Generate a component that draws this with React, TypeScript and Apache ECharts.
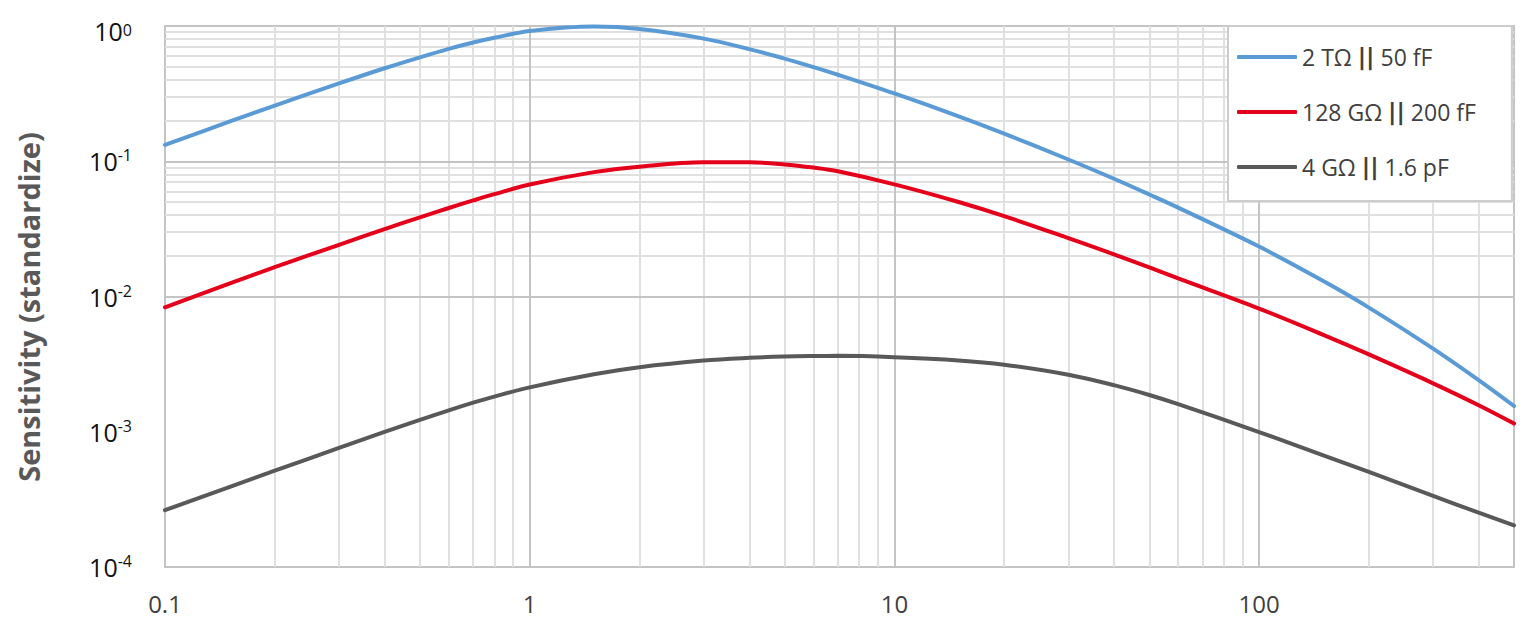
import React, { useEffect, useRef } from 'react';
import * as echarts from 'echarts';

// Frequency points (x axis, log scale)
const FREQ = [0.1, 0.15, 0.2, 0.3, 0.4, 0.5, 0.6, 0.7, 0.8, 1, 1.5, 2, 3, 4, 5, 6, 7, 10, 15, 20, 30, 40, 50, 60, 100, 150, 200, 300, 400, 500];

// Sensitivity values
const S_2T_50F = [0.132, 0.196, 0.258, 0.376, 0.487, 0.587, 0.678, 0.755, 0.818, 0.918, 0.99, 0.949, 0.807, 0.675, 0.574, 0.496, 0.436, 0.317, 0.215, 0.16, 0.103, 0.0742, 0.0568, 0.0454, 0.0234, 0.013, 0.00828, 0.00412, 0.00241, 0.00155];
const S_128G_200F = [0.00832, 0.01247, 0.01648, 0.0241, 0.0315, 0.0385, 0.0451, 0.0513, 0.0571, 0.0673, 0.0831, 0.0912, 0.0982, 0.0982, 0.0948, 0.0898, 0.0843, 0.0675, 0.05, 0.0393, 0.027, 0.0205, 0.0164, 0.0136, 0.00815, 0.00521, 0.00373, 0.00228, 0.00157, 0.00115];
const S_4G_1P6P = [0.000263, 0.00039, 0.000515, 0.00076, 0.000997, 0.001225, 0.00144, 0.00164, 0.00182, 0.00213, 0.00266, 0.003, 0.00336, 0.00352, 0.0036, 0.00363, 0.00364, 0.00356, 0.00337, 0.00313, 0.00264, 0.00221, 0.00187, 0.0016, 0.000995, 0.00067, 0.000504, 0.000336, 0.000252, 0.000203];

const SERIES_NAMES = ['2 TΩ || 50 fF', '128 GΩ || 200 fF', '4 GΩ || 1.6 pF'];
const SERIES_DATA = [S_2T_50F, S_128G_200F, S_4G_1P6P];
const SERIES_COLORS = ['#5b9bd5', '#e4001b', '#595959'];

// Tick / gridline values
const X_LABELS = ['0.1', '1', '10', '100'];
const X_MAJOR = [1, 10, 100];
const X_MINOR = [0.2, 0.3, 0.4, 0.5, 0.6, 0.7, 0.8, 0.9, 2, 3, 4, 5, 6, 7, 8, 9, 20, 30, 40, 50, 60, 70, 80, 90, 200, 300, 400];
const Y_MAJOR = [0.001, 0.01, 0.1];
const Y_MINOR = [0.0002, 0.0003, 0.0004, 0.0005, 0.0006, 0.0007, 0.0008, 0.0009, 0.002, 0.003, 0.004, 0.005, 0.006, 0.007, 0.008, 0.009, 0.02, 0.03, 0.04, 0.05, 0.06, 0.07, 0.08, 0.09, 0.2, 0.3, 0.4, 0.5, 0.6, 0.7, 0.8, 0.9];
const Y_TITLE = 'Sensitivity (standardize)';

const FONT = '"Open Sans", "Noto Sans", sans-serif';

function decade(v: number): number | null {
  const l = Math.log10(v);
  const e = Math.round(l);
  return Math.abs(l - e) < 1e-6 ? e : null;
}

export default function App() {
  const ref = useRef<HTMLDivElement>(null);

  useEffect(() => {
    if (!ref.current) return;
    const chart = echarts.init(ref.current, null, { renderer: 'svg' });

    const gridSeries = (name: string, xs: number[], ys: number[], color: string, z: number) => ({
      type: 'line',
      name,
      data: [],
      silent: true,
      z,
      markLine: {
        silent: true,
        animation: false,
        z,
        symbol: ['none', 'none'],
        label: { show: false },
        emphasis: { disabled: true },
        lineStyle: { color, width: 2, type: 'solid' },
        data: [...xs.map((v) => ({ xAxis: v })), ...ys.map((v) => ({ yAxis: v }))],
      },
    });

    const option: any = {
      animation: false,
      backgroundColor: '#ffffff',
      textStyle: { fontFamily: FONT },
      grid: {
        left: 165,
        right: 24,
        top: 26,
        bottom: 59,
        show: true,
        borderColor: '#c4c4c4',
        borderWidth: 2,
        containLabel: false,
        outerBoundsMode: 'none',
      },
      graphic: [
        {
          type: 'text',
          x: 28,
          y: 307,
          rotation: Math.PI / 2,
          z: 10,
          style: {
            text: Y_TITLE,
            fontFamily: FONT,
            fontSize: 29,
            fontWeight: 'bold',
            fill: '#595959',
            textAlign: 'center',
            textVerticalAlign: 'middle',
            align: 'center',
            verticalAlign: 'middle',
          },
        },
      ],
      legend: {
        data: SERIES_NAMES,
        orient: 'vertical',
        left: 1228,
        top: 26,
        z: 6,
        backgroundColor: '#ffffff',
        borderColor: '#cccccc',
        borderWidth: 2,
        padding: [19, 36, 22, 9],
        itemGap: 31,
        itemWidth: 60,
        itemHeight: 4,
        icon: 'roundRect',
        selectedMode: false,
        formatter: (name: string) => {
          const parts = name.split('||');
          return `{a|${parts[0]}}{b|||}{a|${parts[1]}}`;
        },
        textStyle: {
          fontFamily: FONT,
          fontSize: 23,
          lineHeight: 24,
          color: '#404040',
          rich: {
            a: { fontFamily: FONT, fontSize: 23, lineHeight: 24, color: '#404040' },
            b: { fontFamily: '"DejaVu Sans", sans-serif', fontSize: 23, lineHeight: 24, fontWeight: 'bold', color: '#404040' },
          },
        },
      },
      xAxis: {
        type: 'log',
        logBase: 10,
        min: 0.1,
        max: 500,
        axisLine: { show: false },
        axisTick: { show: false },
        splitLine: { show: false },
        axisLabel: {
          fontFamily: FONT,
          fontSize: 24,
          color: '#404040',
          margin: 24,
          showMaxLabel: false,
          formatter: (v: number) => {
            const e = decade(v);
            if (e === null) return '';
            return X_LABELS[e + 1] ?? '';
          },
        },
      },
      yAxis: {
        type: 'log',
        logBase: 10,
        min: 0.0001,
        max: 1,
        axisLine: { show: false },
        axisTick: { show: false },
        splitLine: { show: false },
        axisLabel: {
          margin: 33,
          formatter: (v: number) => {
            const e = decade(v);
            if (e === null) return '';
            if (e === 0) return `{bt|10}{st|${e}}`;
            return `{b|10}{s|${e}}`;
          },
          rich: {
            b: { fontFamily: FONT, fontSize: 25, lineHeight: 28, color: '#111111' },
            s: { fontFamily: FONT, fontSize: 16, lineHeight: 16, color: '#111111', verticalAlign: 'top' },
            bt: { fontFamily: FONT, fontSize: 25, lineHeight: 28, color: '#111111', padding: [10, 0, 0, 0] },
            st: { fontFamily: FONT, fontSize: 16, lineHeight: 16, color: '#111111', verticalAlign: 'top', padding: [10, 0, 0, 0] },
          },
        },
      },
      series: [
        gridSeries('__minor', X_MINOR, Y_MINOR, '#e0e0e0', 1),
        gridSeries('__major', X_MAJOR, Y_MAJOR, '#c4c4c4', 1),
        ...SERIES_NAMES.map((name, i) => ({
          type: 'line',
          name,
          data: FREQ.map((f, j) => [f, SERIES_DATA[i][j]]),
          smooth: 0.35,
          showSymbol: false,
          symbol: 'none',
          color: SERIES_COLORS[i],
          lineStyle: { color: SERIES_COLORS[i], width: 4, cap: 'round' },
          z: 3,
          silent: true,
        })),
      ],
    };

    chart.setOption(option);
    return () => chart.dispose();
  }, []);

  return (
    <div
      ref={ref}
      style={{ position: 'absolute', left: 0, top: 0, width: '1538px', height: '626px' }}
    />
  );
}
